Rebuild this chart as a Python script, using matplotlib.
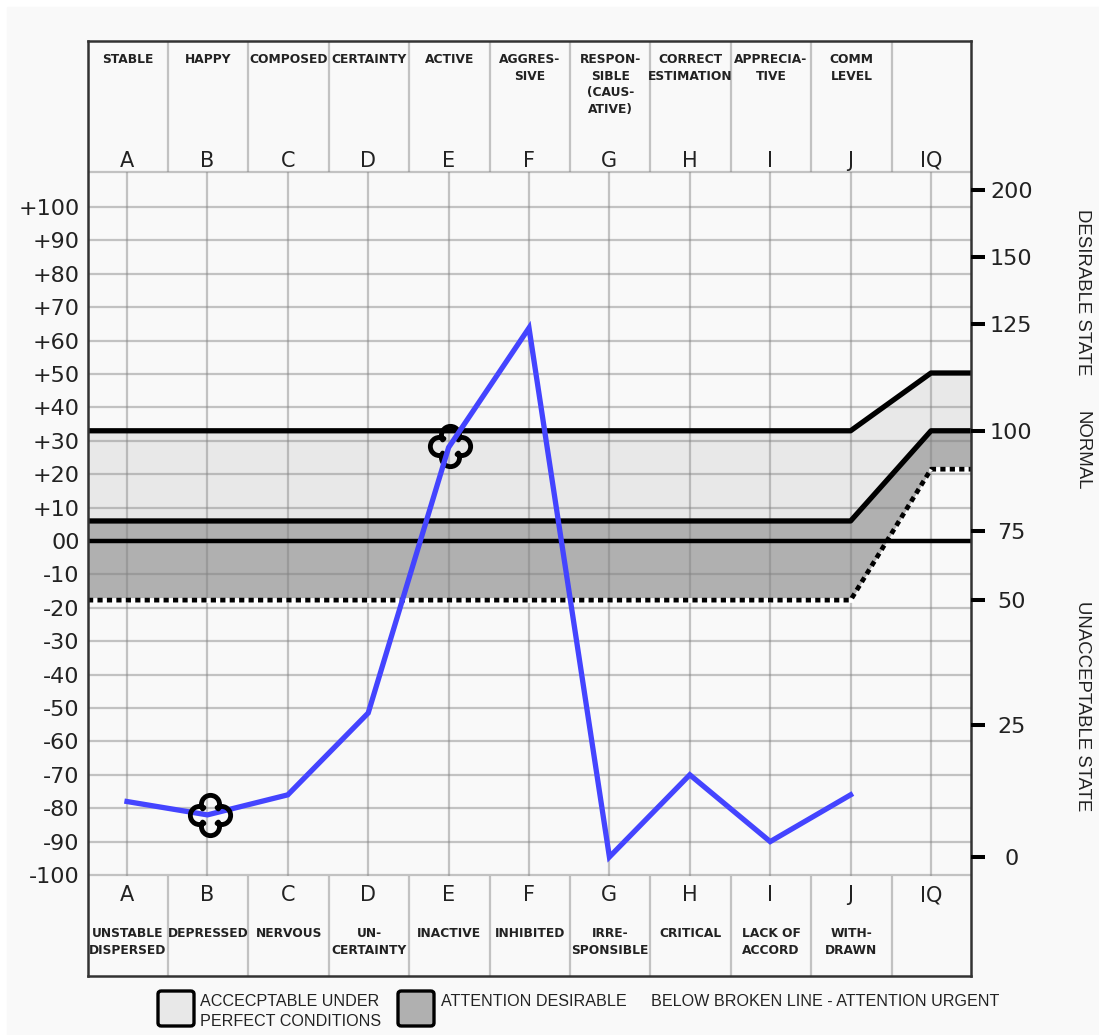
import numpy as np
import matplotlib
matplotlib.use('Agg')
import matplotlib.pyplot as plt
from matplotlib.path import Path
from matplotlib.patches import FancyBboxPatch, Rectangle

W, H = 1099, 1035

letters = ['A', 'B', 'C', 'D', 'E', 'F', 'G', 'H', 'I', 'J', 'IQ']
top_labels = ['STABLE', 'HAPPY', 'COMPOSED', 'CERTAINTY', 'ACTIVE', 'AGGRES-\nSIVE',
              'RESPON-\nSIBLE\n(CAUS-\nATIVE)', 'CORRECT\nESTIMATION', 'APPRECIA-\nTIVE',
              'COMM\nLEVEL', '']
bottom_labels = ['UNSTABLE\nDISPERSED', 'DEPRESSED', 'NERVOUS', 'UN-\nCERTAINTY', 'INACTIVE',
                 'INHIBITED', 'IRRE-\nSPONSIBLE', 'CRITICAL', 'LACK OF\nACCORD', 'WITH-\nDRAWN', '']
scores = [-78, -82, -76, -51.5, 28, 63.8, -94.6, -70, -90, -76]

left_ticks = list(range(-100, 101, 10))
left_labels = ['-100', '-90', '-80', '-70', '-60', '-50', '-40', '-30', '-20', '-10', '00',
               '+10', '+20', '+30', '+40', '+50', '+60', '+70', '+80', '+90', '+100']
iq_labels = ['200', '150', '125', '100', '75', '50', '25', '0']
iq_pos = [105, 85, 65, 33, 3, -17.7, -55, -94.6]

upper_line = [33, 33, 50.3, 50.3]
middle_line = [6, 6, 33, 33]
broken_line = [-17.7, -17.7, 21.5, 21.5]
clovers = [(1.03, -82), (4.02, 28.5)]


def ypx(p):
    return (541 - p) / 3.34


def xpx(p):
    return (p - 127) / 80.4


def clover_path():
    # four round lobes, walked anticlockwise: top, left, bottom, right
    centres = [(0, 0.55), (-0.55, 0), (0, -0.55), (0.55, 0)]
    starts = [-30, 60, 150, 240]
    verts, codes = [], []
    for (cx, cy), s in zip(centres, starts):
        arc = Path.arc(s, s + 240)
        verts.extend(arc.vertices * 0.45 + [cx, cy])
        codes.extend([Path.LINETO if codes else Path.MOVETO] + list(arc.codes[1:]))
    verts.append(verts[0])
    codes.append(Path.CLOSEPOLY)
    return Path(verts, codes)


fig = plt.figure(figsize=(W / 100, H / 100), dpi=100, facecolor='white')
fig.add_artist(Rectangle((7 / W, 0), 1, 1 - 7 / H, transform=fig.transFigure, color='#f9f9f9', zorder=-5))
ax = fig.add_axes([88 / W, 1 - 976 / H, 883 / W, 935 / H])
ax.set_facecolor('#f9f9f9')
xlo, xhi = xpx(88), xpx(971)
ax.set_xlim(xlo, xhi)
ax.set_ylim(ypx(976), ypx(41))

band_x = [xlo, 9, 10, xhi]
ax.fill_between(band_x, middle_line, upper_line, color='#e8e8e8', lw=0, zorder=1)
ax.fill_between(band_x, broken_line, middle_line, color='#b0b0b0', lw=0, zorder=1)

grid = dict(color='#808080', alpha=0.45, lw=1.6, zorder=2)
ax.hlines(left_ticks, xlo, xhi, **grid)
ax.hlines(ypx(172), xlo, xhi, **grid)
ax.vlines(range(11), ypx(876), ypx(172), **grid)
for i in range(1, 11):
    ax.vlines(i - 0.49, ypx(172), ypx(41), **grid)
    ax.vlines(i - 0.49, ypx(976), ypx(876), **grid)

ax.plot(band_x, upper_line, color='black', lw=3.8, zorder=3, solid_capstyle='butt')
ax.plot(band_x, middle_line, color='black', lw=3.8, zorder=3, solid_capstyle='butt')
ax.plot([xlo, xhi], [0, 0], color='black', lw=3.2, zorder=3, solid_capstyle='butt')
ax.plot(band_x[:2], broken_line[:2], color='white', lw=3.4, zorder=3)
ax.plot(band_x[2:], broken_line[2:], color='white', lw=3.4, zorder=3)
ax.plot(band_x, broken_line, color='black', lw=3.4, ls=(0, (1.1, 0.9)), zorder=3)

ax.plot(range(10), scores, color='#4444ff', lw=3.8, zorder=5, solid_joinstyle='miter')

clover = clover_path()
ax.plot(clovers[1][0], clovers[1][1], marker=clover, ms=29, mfc='none', mec='black', mew=3.5, zorder=4)
ax.plot(clovers[0][0], clovers[0][1], marker=clover, ms=29, mfc='none', mec='black', mew=3.5, zorder=6)

ax.set_xticks([])
ax.set_yticks(left_ticks)
ax.set_yticklabels(left_labels, fontsize=16, color='#222222')
ax.tick_params(axis='y', length=0, pad=6)
for s in ax.spines.values():
    s.set_linewidth(1.8)
    s.set_color('#333333')
    s.set_zorder(7)

right = ax.twinx()
right.set_ylim(ax.get_ylim())
right.set_yticks(iq_pos)
right.set_yticklabels(iq_labels, fontsize=16, color='#222222', ha='center')
right.tick_params(axis='y', length=10, width=2.9, pad=19, color='black')
for s in right.spines.values():
    s.set_visible(False)

small = dict(family='DejaVu Sans', fontweight='bold', fontsize=8.8, color='#222222',
             ha='center', va='top', linespacing=1.37)
big = dict(family='DejaVu Sans', fontsize=15, color='#222222', ha='center', va='center')
for i, (l, t, b) in enumerate(zip(letters, top_labels, bottom_labels)):
    ax.text(i, ypx(161), l, **big)
    ax.text(i, ypx(895), l, **big)
    ax.text(i + 0.01, ypx(53), t, **small)
    ax.text(i + 0.01, ypx(927), b, **small)

plain = dict(family='Liberation Sans', fontsize=11.6, color='#222222', va='center')
fig.text(200 / W, 1 - 1001 / H, 'ACCECPTABLE UNDER', **plain)
fig.text(200 / W, 1 - 1021 / H, 'PERFECT CONDITIONS', **plain)
fig.text(441 / W, 1 - 1001 / H, 'ATTENTION DESIRABLE', **plain)
fig.text(651 / W, 1 - 1001 / H, 'BELOW BROKEN LINE - ATTENTION URGENT', **plain)

side = dict(family='Liberation Sans', fontsize=13.4, color='#222222', rotation=270,
            ha='center', va='center')
fig.text(1082 / W, 1 - 292 / H, 'DESIRABLE STATE', **side)
fig.text(1082 / W, 1 - 451 / H, 'NORMAL', **side)
fig.text(1082 / W, 1 - 706 / H, 'UNACCEPTABLE STATE', **side)

for x0, col in [(158, '#e8e8e8'), (398, '#b0b0b0')]:
    box = FancyBboxPatch((x0 / W, 1 - 1026 / H), 36 / W, 35 / H, boxstyle='round,pad=0,rounding_size=0.003',
                         transform=fig.transFigure, fc=col, ec='black', lw=2.4)
    fig.add_artist(box)

fig.savefig('out.png', dpi=100)
